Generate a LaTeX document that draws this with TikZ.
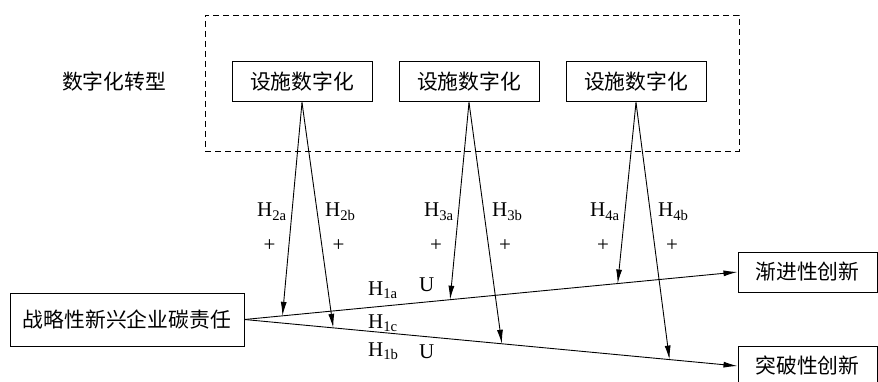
\documentclass[tikz,border=0pt]{standalone}
\usepackage{fontspec}
\setmainfont{Liberation Serif}
\newfontfamily\cjk{Noto Sans CJK SC}
\usetikzlibrary{arrows.meta,calc}
\begin{document}
\begin{tikzpicture}[x=1pt,y=-1pt,
 box/.style={draw,line width=1pt,minimum height=40pt,inner sep=0pt,font=\cjk\fontsize{20.8}{20.8}\selectfont},
 grp/.style={draw,dashed,dash pattern=on 6pt off 4pt,line width=0.9pt,minimum width=534pt,minimum height=136pt,inner sep=0pt},
 arr/.style={-{Latex[length=14pt,width=6pt]},line width=0.9pt},
 hl/.style={anchor=base west,inner sep=0pt,font=\fontsize{21}{21}\selectfont},
 pl/.style={inner sep=0pt,font=\fontsize{21}{21}\selectfont},
 cjklabel/.style={inner sep=0pt,font=\cjk\fontsize{20.8}{20.8}\selectfont}]
\useasboundingbox (0,0) rectangle (878,382);
% group
\node[grp] (G) at (472,83) {};
\node[cjklabel] (T) at (114,82) {数字化转型};
\node[box,minimum width=140pt] (B1) at (302,82) {设施数字化};
\node[box,minimum width=140pt] (B2) at (469,82) {设施数字化};
\node[box,minimum width=140pt] (B3) at (636,82) {设施数字化};
% main nodes
\node[box,minimum width=234pt,minimum height=53pt] (L) at (127,319.5) {战略性新兴企业碳责任};
\node[box,minimum width=139pt] (I) at (807.5,272) {渐进性创新};
\node[box,minimum width=139pt] (R) at (807.5,366) {突破性创新};
% main arrows
\draw[arr] (L.east) -- (I.west)
  coordinate[pos=0.077] (p2a) coordinate[pos=0.417] (p3a) coordinate[pos=0.757] (p4a);
\draw[arr] (L.east) -- (R.west)
  coordinate[pos=0.180] (p2b) coordinate[pos=0.522] (p3b) coordinate[pos=0.862] (p4b);
% moderating arrows
\draw[arr] (B1.south) -- (p2a);
\draw[arr] (B1.south) -- (p2b);
\draw[arr] (B2.south) -- (p3a);
\draw[arr] (B2.south) -- (p3b);
\draw[arr] (B3.south) -- (p4a);
\draw[arr] (B3.south) -- (p4b);
% labels
\node[hl] (h2a) at (257,217) {H\textsubscript{2a}};
\node[hl] (h2b) at (325,217) {H\textsubscript{2b}};
\node[hl] (h3a) at (424,217) {H\textsubscript{3a}};
\node[hl] (h3b) at (492,217) {H\textsubscript{3b}};
\node[hl] (h4a) at (590,217) {H\textsubscript{4a}};
\node[hl] (h4b) at (658,217) {H\textsubscript{4b}};
\node[pl] (s2a) at (269.5,246) {+};
\node[pl] (s2b) at (338.5,246) {+};
\node[pl] (s3a) at (436,246) {+};
\node[pl] (s3b) at (505,246) {+};
\node[pl] (s4a) at (603,246) {+};
\node[pl] (s4b) at (672,246) {+};
\node[hl] (h1a) at (368,295) {H\textsubscript{1a}};
\node[hl] (h1c) at (368,328) {H\textsubscript{1c}};
\node[hl] (h1b) at (368,356) {H\textsubscript{1b}};
\node[hl] (u1) at (419,291) {U};
\node[hl] (u2) at (419,358) {U};
\end{tikzpicture}
\end{document}
